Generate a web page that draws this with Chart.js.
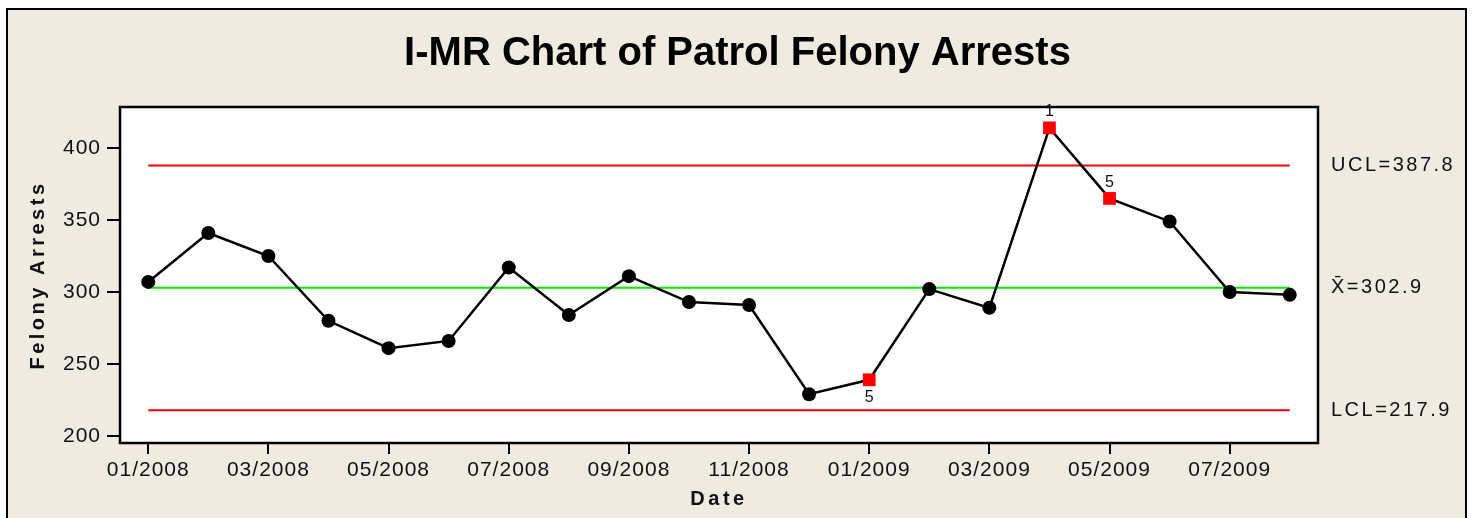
<!DOCTYPE html>
<html>
<head>
<meta charset="utf-8">
<script src="https://cdn.jsdelivr.net/npm/chart.js@4"></script>
<style>
  body { margin: 0; background: #fff; }
</style>
</head>
<body>
<canvas id="chart" width="1475" height="518"></canvas>
<script>
const months = ['01/2008', '02/2008', '03/2008', '04/2008', '05/2008', '06/2008', '07/2008', '08/2008',
    '09/2008', '10/2008', '11/2008', '12/2008', '01/2009', '02/2009', '03/2009', '04/2009',
    '05/2009', '06/2009', '07/2009', '08/2009'];
const arrests = [307, 341, 325, 280, 261, 266, 317, 284, 311, 293, 291, 229, 239, 302, 289, 414, 365, 349, 300, 298];
const ucl = 387.8;
const centerLine = 302.9;
const lcl = 217.9;
const yTicks = [200, 250, 300, 350, 400];
// flagged points: index, test number, label above or below
const flags = [
    { index: 12, test: '5', above: false },
    { index: 15, test: '1', above: true },
    { index: 16, test: '5', above: true }
];

const flagged = i => flags.some(f => f.index === i);
const font = 'Liberation Sans';

const limitLine = (value, color) => ({
    data: [{ x: 0, y: value }, { x: months.length - 1, y: value }],
    borderColor: color,
    borderWidth: 2,
    pointRadius: 0,
    fill: false
});

const decor = {
    id: 'decor',
    beforeDraw(chart) {
        const { ctx, chartArea: a } = chart;
        ctx.save();
        ctx.fillStyle = '#ffffff';
        ctx.fillRect(0, 0, chart.width, chart.height);
        ctx.fillStyle = '#efebe1';
        ctx.fillRect(7, 9, 1459, 520);
        ctx.strokeStyle = '#000';
        ctx.lineWidth = 2;
        ctx.strokeRect(7, 9, 1459, 540);
        ctx.fillStyle = '#ffffff';
        ctx.fillRect(a.left, a.top, a.right - a.left, a.bottom - a.top);
        ctx.restore();
        ctx.letterSpacing = '1px';
    },
    afterLayout(chart) {
        const ctx = chart.ctx;
        [chart.scales.x, chart.scales.y].forEach(s => {
            if (s._spaced) return;
            const orig = s.drawTitle;
            s.drawTitle = function () {
                ctx.save();
                ctx.letterSpacing = '3.5px';
                orig.call(this);
                ctx.restore();
            };
            s._spaced = true;
        });
        const t = chart.titleBlock;
        if (t && !t._spaced) {
            const orig = t.draw;
            t.draw = function (...args) {
                ctx.save();
                ctx.letterSpacing = '0px';
                orig.apply(this, args);
                ctx.restore();
            };
            t._spaced = true;
        }
    },
    afterDraw(chart) {
        const { ctx, chartArea: a, scales: { x, y } } = chart;
        ctx.save();
        ctx.strokeStyle = '#000';
        ctx.lineWidth = 2.5;
        ctx.strokeRect(a.left, a.top, a.right - a.left, a.bottom - a.top);

        ctx.fillStyle = '#111';
        ctx.textBaseline = 'middle';
        ctx.textAlign = 'left';
        ctx.font = '20px "' + font + '"';
        ctx.letterSpacing = '2.5px';
        ctx.fillText('UCL=' + ucl.toFixed(1), a.right + 13, y.getPixelForValue(ucl));
        ctx.fillText('X\u0304=' + centerLine.toFixed(1), a.right + 13, y.getPixelForValue(centerLine));
        ctx.fillText('LCL=' + lcl.toFixed(1), a.right + 13, y.getPixelForValue(lcl));

        ctx.font = '16px "' + font + '"';
        ctx.letterSpacing = '0px';
        ctx.textAlign = 'center';
        flags.forEach(f => {
            const px = x.getPixelForValue(f.index);
            const py = y.getPixelForValue(arrests[f.index]);
            ctx.fillText(f.test, px, f.above ? py - 16 : py + 18);
        });
        ctx.restore();
    }
};

new Chart(document.getElementById('chart').getContext('2d'), {
    type: 'line',
    data: {
        datasets: [{
            data: arrests.map((v, i) => ({ x: i, y: v })),
            borderColor: '#000',
            borderWidth: 2.5,
            lineTension: 0,
            fill: false,
            pointStyle: arrests.map((v, i) => flagged(i) ? 'rect' : 'circle'),
            pointRadius: arrests.map((v, i) => flagged(i) ? 9 : 7),
            pointBackgroundColor: arrests.map((v, i) => flagged(i) ? '#ff0000' : '#000'),
            pointBorderColor: arrests.map((v, i) => flagged(i) ? '#ff0000' : '#000'),
            pointBorderWidth: 0
        },
        limitLine(ucl, '#ff0000'),
        limitLine(centerLine, '#00ee00'),
        limitLine(lcl, '#ff0000')]
    },
    options: {
        responsive: false,
        animation: false,
        layout: { padding: 0 },
        plugins: {
            legend: { display: false },
            tooltip: { enabled: false },
            title: {
                display: true,
                text: 'I-MR Chart of Patrol Felony Arrests',
                color: '#000',
                font: { family: font, size: 40, weight: 'bold', lineHeight: 1.2 },
                padding: { top: 30, bottom: 29 }
            }
        },
        scales: {
            x: {
                type: 'linear',
                min: -0.47,
                max: 19.47,
                afterBuildTicks: s => { s.ticks = months.map((m, i) => ({ value: i })).filter(t => t.value % 2 === 0); },
                afterFit: s => { s.height = 75; },
                grid: { drawOnChartArea: false, color: '#000', lineWidth: 2, tickLength: 11 },
                border: { display: false },
                ticks: {
                    color: '#111',
                    padding: 4,
                    maxRotation: 0,
                    autoSkip: false,
                    font: { family: font, size: 21 },
                    callback: v => months[v]
                },
                title: {
                    display: true,
                    text: 'Date',
                    color: '#111',
                    font: { family: font, size: 20, weight: 'bold', lineHeight: 1.2 },
                    padding: { top: 0, bottom: 7 }
                }
            },
            y: {
                min: 195.1,
                max: 428.5,
                afterBuildTicks: s => { s.ticks = yTicks.map(v => ({ value: v })); },
                afterFit: s => { s.width = 120; },
                grid: { drawOnChartArea: false, color: '#000', lineWidth: 2, tickLength: 13 },
                border: { display: false },
                ticks: {
                    color: '#111',
                    padding: 6,
                    font: { family: font, size: 21 }
                },
                title: {
                    display: true,
                    text: 'Felony Arrests',
                    color: '#111',
                    font: { family: font, size: 20, weight: 'bold', lineHeight: 1.2 },
                    padding: { top: 26.5, bottom: 0 }
                }
            },
            // empty right-hand band that holds the limit labels
            yRight: {
                position: 'right',
                min: 195.1,
                max: 428.5,
                afterFit: s => { s.width = 157; },
                grid: { display: false },
                border: { display: false },
                ticks: { display: false }
            }
        }
    },
    plugins: [decor]
});
</script>
</body>
</html>
